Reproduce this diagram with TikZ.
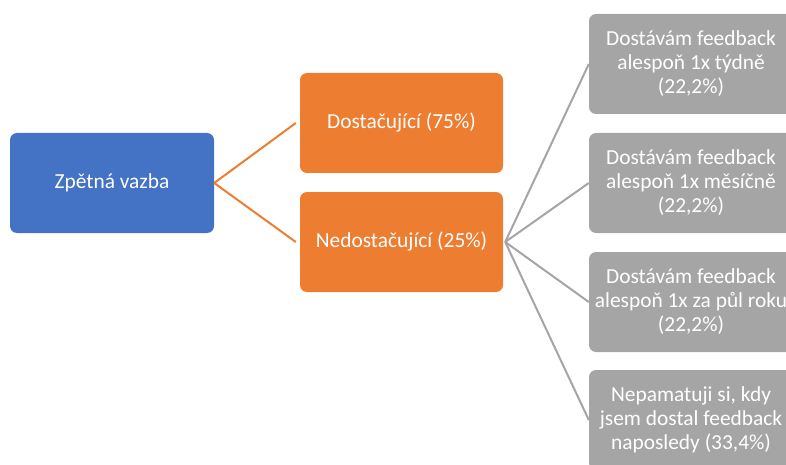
\documentclass[tikz,border=0pt]{standalone}
\usepackage{fontspec}
\setmainfont{Carlito}
\definecolor{boxblue}{HTML}{4472C4}
\definecolor{boxorange}{HTML}{ED7D31}
\definecolor{boxgrey}{HTML}{A5A5A5}
\tikzset{
  tree/.style={rounded corners=7pt, minimum width=204pt, minimum height=100pt,
    inner sep=2pt, text=white, align=center,
    font=\fontsize{21.4}{24}\selectfont},
  rootbox/.style={tree, fill=boxblue},
  midbox/.style={tree, fill=boxorange, minimum width=203pt},
  leafbox/.style={tree, fill=boxgrey},
  orangelink/.style={draw=boxorange, line width=2pt},
  greylink/.style={draw=boxgrey, line width=2pt},
}
\begin{document}
\begin{tikzpicture}[x=1pt, y=-1pt]
\useasboundingbox (0,0) rectangle (786,465);
\clip (0,0) rectangle (786,465);
\node[rootbox] (root) at (112,183) {Zpětná vazba};
\node[midbox] (ok) at (401.5,123) {Dostačující (75\%)};
\node[midbox] (notok) at (401.5,242) {Nedostačující (25\%)};
\node[leafbox] (w) at (691,64) {Dostávám feedback\\alespoň 1x týdně\\(22,2\%)};
\node[leafbox] (m) at (691,183) {Dostávám feedback\\alespoň 1x měsíčně\\(22,2\%)};
\node[leafbox] (h) at (691,302) {Dostávám feedback\\alespoň 1x za půl roku\\(22,2\%)};
\node[leafbox] (n) at (691,420) {Nepamatuji si, kdy\\jsem dostal feedback\\naposledy (33,4\%)};
\draw[orangelink] (root.east) -- ([xshift=-4pt]ok.west);
\draw[orangelink] (root.east) -- ([xshift=-4pt]notok.west);
\foreach \t in {w,m,h,n}
  \draw[greylink] ([xshift=2pt]notok.east) -- (\t.west);
\end{tikzpicture}
\end{document}
